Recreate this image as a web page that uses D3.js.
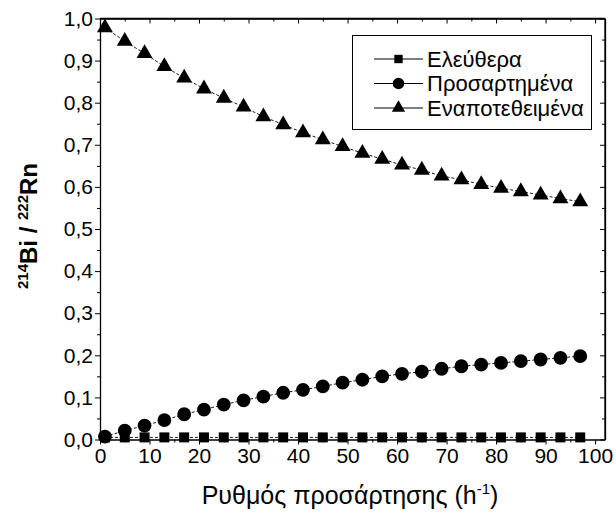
<!DOCTYPE html>
<html>
<head>
<meta charset="utf-8">
<script src="https://cdn.jsdelivr.net/npm/d3@7"></script>
<style>
  body { margin: 0; background: #fff; }
  text { font-family: "Liberation Sans", Arial, sans-serif; fill: #000; }
</style>
</head>
<body>
<svg id="chart" width="616" height="524"></svg>
<script>
// data
const rate = [1, 5, 9, 13, 17, 21, 25, 29, 33, 37, 41, 45, 49, 53, 57, 61, 65, 69, 73, 77, 81, 85, 89, 93, 97];
const free = [0.005, 0.005, 0.005, 0.005, 0.005, 0.005, 0.005, 0.005, 0.005, 0.005, 0.005, 0.005, 0.005,
  0.005, 0.005, 0.005, 0.005, 0.005, 0.005, 0.005, 0.005, 0.005, 0.005, 0.005, 0.005];
const attached = [0.007, 0.021, 0.033, 0.046, 0.060, 0.071, 0.083, 0.093, 0.102, 0.111, 0.118, 0.126, 0.135,
  0.142, 0.150, 0.156, 0.161, 0.168, 0.174, 0.178, 0.182, 0.186, 0.190, 0.194, 0.198];
const deposited = [0.978, 0.946, 0.917, 0.886, 0.859, 0.833, 0.811, 0.790, 0.767, 0.748, 0.729, 0.712, 0.696,
  0.680, 0.666, 0.652, 0.640, 0.626, 0.617, 0.606, 0.597, 0.589, 0.581, 0.572, 0.565];
const seriesNames = ["Ελεύθερα", "Προσαρτημένα", "Εναποτεθειμένα"];
const xTicks = [0, 10, 20, 30, 40, 50, 60, 70, 80, 90, 100];
const yTicks = [0, 0.1, 0.2, 0.3, 0.4, 0.5, 0.6, 0.7, 0.8, 0.9, 1.0];

const svg = d3.select("#chart");
const mLeft = 100, mRight = 605, mTop = 18.5, mBottom = 439.5;

const x = d3.scaleLinear().domain([0, 102]).range([mLeft, mRight]);
const y = d3.scaleLinear().domain([0, 1]).range([mBottom, mTop]);

const comma = d => d3.format(".1f")(d).replace(".", ",");
const xMinor = d3.range(5, 101, 10);
const yMinor = d3.range(0.05, 1, 0.1);

// bottom axis
svg.append("g").attr("transform", "translate(0," + mBottom + ")")
  .call(d3.axisBottom(x).tickValues(xTicks).tickSize(5).tickSizeOuter(0).tickPadding(4));
svg.append("g").attr("transform", "translate(0," + mBottom + ")")
  .call(d3.axisBottom(x).tickValues(xMinor).tickSize(3).tickFormat(""))
  .select(".domain").remove();

// left axis
svg.append("g").attr("transform", "translate(" + mLeft + ",0)")
  .call(d3.axisLeft(y).tickValues(yTicks).tickFormat(comma).tickSize(5).tickSizeOuter(0).tickPadding(2));
svg.append("g").attr("transform", "translate(" + mLeft + ",0)")
  .call(d3.axisLeft(y).tickValues(yMinor).tickSize(3).tickFormat(""))
  .select(".domain").remove();

// top and right mirror ticks (inward)
svg.append("g").attr("transform", "translate(0," + mTop + ")")
  .call(d3.axisBottom(x).tickValues(xTicks).tickSize(5).tickSizeOuter(0).tickFormat(""));
svg.append("g").attr("transform", "translate(0," + mTop + ")")
  .call(d3.axisBottom(x).tickValues(xMinor).tickSize(3).tickFormat(""))
  .select(".domain").remove();
svg.append("g").attr("transform", "translate(" + mRight + ",0)")
  .call(d3.axisLeft(y).tickValues(yTicks).tickSize(5).tickSizeOuter(0).tickFormat(""));
svg.append("g").attr("transform", "translate(" + mRight + ",0)")
  .call(d3.axisLeft(y).tickValues(yMinor).tickSize(3).tickFormat(""))
  .select(".domain").remove();

svg.selectAll(".domain").attr("stroke", "#000").attr("stroke-width", 1.3);
svg.selectAll(".tick line").attr("stroke", "#000");
svg.selectAll(".tick text").style("font-size", "21px").attr("fill", "#000");

// frame closing
svg.append("line").attr("x1", mLeft).attr("x2", mRight).attr("y1", mTop).attr("y2", mTop)
  .attr("stroke", "#000").attr("stroke-width", 1.3);
svg.append("line").attr("x1", mRight).attr("x2", mRight).attr("y1", mTop).attr("y2", mBottom)
  .attr("stroke", "#000").attr("stroke-width", 1.3);

// series
const series = [
  { name: seriesNames[0], values: free, symbol: d3.symbolSquare, size: 100 },
  { name: seriesNames[1], values: attached, symbol: d3.symbolCircle, size: 150 },
  { name: seriesNames[2], values: deposited, symbol: d3.symbolTriangle, size: 110 }
];

const line = d3.line().x(d => x(d[0])).y(d => y(d[1]));

series.forEach(s => {
  const pts = rate.map((r, i) => [r, s.values[i]]);
  svg.append("path").datum(pts).attr("d", line)
    .attr("fill", "none").attr("stroke", "#000").attr("stroke-width", 0.9)
    .attr("stroke-dasharray", "3,2");
  svg.append("g").selectAll("path").data(pts).join("path")
    .attr("d", d3.symbol().type(s.symbol).size(s.size))
    .attr("transform", d => "translate(" + x(d[0]) + "," + y(d[1]) + ")")
    .attr("fill", "#000");
});

// legend
const lg = svg.append("g");
lg.append("rect").attr("x", 352.5).attr("y", 35.5).attr("width", 239).attr("height", 94)
  .attr("fill", "#fff").attr("stroke", "#000").attr("stroke-width", 1);
series.forEach((s, i) => {
  const yy = 59 + i * 24.5;
  lg.append("line").attr("x1", 374).attr("x2", 423).attr("y1", yy).attr("y2", yy)
    .attr("stroke", "#000").attr("stroke-width", 1);
  lg.append("path").attr("d", d3.symbol().type(s.symbol).size(s.size * 0.7))
    .attr("transform", "translate(398.5," + yy + ")").attr("fill", "#000");
  lg.append("text").attr("x", 427).attr("y", yy + 7.5).text(s.name).style("font-size", "22px");
});

// x axis title
const xt = svg.append("text").attr("x", 350).attr("y", 504).attr("text-anchor", "middle")
  .style("font-size", "25px");
xt.append("tspan").text("Ρυθμός προσάρτησης (h");
xt.append("tspan").text("-1").attr("dy", -10).style("font-size", "15px");
xt.append("tspan").text(")").attr("dy", 10);

// y axis title
const yt = svg.append("text").attr("transform", "translate(37,226) rotate(-90)")
  .attr("text-anchor", "middle").style("font-size", "24px").style("font-weight", "bold");
yt.append("tspan").text("214").attr("dy", -9).style("font-size", "15px");
yt.append("tspan").text("Bi / ").attr("dy", 9);
yt.append("tspan").text("222").attr("dy", -9).style("font-size", "15px");
yt.append("tspan").text("Rn").attr("dy", 9);
</script>
</body>
</html>
